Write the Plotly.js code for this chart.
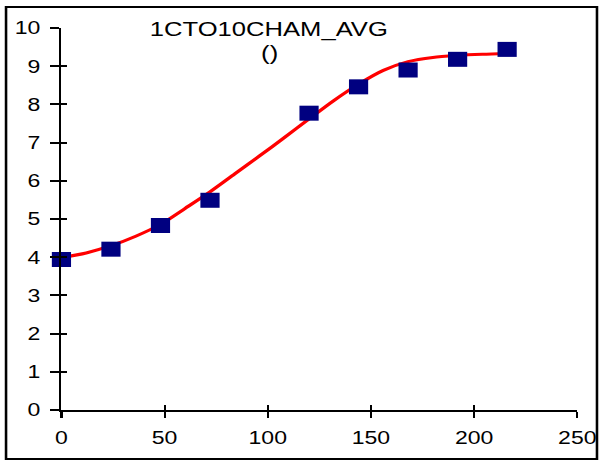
<!DOCTYPE html>
<html>
<head>
<meta charset="utf-8">
<script src="https://cdn.plot.ly/plotly-3.0.1.min.js"></script>
<style>
  html, body { margin: 0; padding: 0; background: #ffffff; overflow: hidden; }
  /* the chart is laid out narrow and widened horizontally, like the wide Excel-style export */
  #chart { width: 468px; height: 462px; transform: scaleX(1.28); transform-origin: 0 0; }
</style>
</head>
<body>
<div id="chart"></div>
<script>
// measured averages
const hours = [0, 24, 48, 72, 120, 144, 168, 192, 216];
const avgValues = [3.94, 4.21, 4.83, 5.49, 7.77, 8.46, 8.90, 9.18, 9.44];

// smoothed fit curve
const fitHours = [0, 12, 24, 36, 48, 60, 72, 84, 96, 108, 120, 132, 144, 156, 168, 180, 192, 204, 216];
const fitValues = [3.99, 4.11, 4.30, 4.55, 4.86, 5.28, 5.71, 6.18, 6.65, 7.13, 7.62, 8.10, 8.53, 8.89, 9.12, 9.23, 9.28, 9.31, 9.33];

const xTicks = [0, 50, 100, 150, 200, 250];
const yTicks = [0, 1, 2, 3, 4, 5, 6, 7, 8, 9, 10];

const titleLines = ['1CTO10CHAM_AVG', '()'];

const FONT = 'Liberation Sans, Arial, sans-serif';

const traces = [
  {
    x: fitHours, y: fitValues, type: 'scatter', mode: 'lines',
    line: { color: '#ff0000', width: 3, shape: 'spline', smoothing: 0.8 },
    hoverinfo: 'skip', showlegend: false, cliponaxis: false
  },
  {
    x: hours, y: avgValues, type: 'scatter', mode: 'markers',
    xaxis: 'x2', yaxis: 'y2',
    marker: { symbol: 'square', size: 15, color: '#000080', line: { width: 0 } },
    showlegend: false, cliponaxis: false
  }
];

const layout = {
  width: 468, height: 462,
  margin: { l: 48, r: 17, t: 28, b: 52, pad: 0 },
  paper_bgcolor: '#ffffff', plot_bgcolor: '#ffffff',
  font: { family: FONT, color: '#000000', size: 18 },
  showlegend: false,
  annotations: [
    {
      text: titleLines[0], xref: 'paper', yref: 'paper',
      x: 0.402, y: 0.9948, xanchor: 'center', yanchor: 'middle',
      showarrow: false, font: { family: FONT, size: 20, color: '#000000' }
    },
    {
      text: titleLines[1], xref: 'paper', yref: 'paper',
      x: 0.402, y: 0.9346, xanchor: 'center', yanchor: 'middle',
      showarrow: false, font: { family: FONT, size: 20, color: '#000000' }
    }
  ],
  xaxis: {
    range: [0, 250], tickvals: xTicks, ticktext: xTicks.map(String),
    ticks: 'outside', ticklen: 6, tickwidth: 1.7, tickcolor: '#000000',
    showline: true, linewidth: 2, linecolor: '#000000',
    showgrid: false, zeroline: false, ticklabelstandoff: 4,
    tickfont: { family: FONT, size: 18, color: '#000000' }
  },
  xaxis2: {
    overlaying: 'x', anchor: 'y', side: 'bottom',
    range: [0, 250], tickvals: xTicks,
    ticks: 'inside', ticklen: 5, tickwidth: 1.7, tickcolor: '#000000',
    showticklabels: false, showline: false, showgrid: false, zeroline: false
  },
  yaxis: {
    range: [0, 10], tickvals: yTicks, ticktext: yTicks.map(String),
    ticks: 'outside', ticklen: 7, tickwidth: 2, tickcolor: '#000000',
    showline: true, linewidth: 1.8, linecolor: '#000000',
    showgrid: false, zeroline: false, ticklabelstandoff: 4,
    tickfont: { family: FONT, size: 18, color: '#000000' }
  },
  yaxis2: {
    overlaying: 'y', anchor: 'x', side: 'left',
    range: [0, 10], tickvals: yTicks,
    ticks: 'inside', ticklen: 4.7, tickwidth: 2, tickcolor: '#000000',
    showticklabels: false, showline: false, showgrid: false, zeroline: false
  },
  shapes: [{
    type: 'rect', xref: 'paper', yref: 'paper',
    x0: -0.1074, x1: 1.0382, y0: -0.1283, y1: 1.0550,
    line: { color: '#000000', width: 2 }, fillcolor: 'rgba(0,0,0,0)', layer: 'above'
  }]
};

Plotly.newPlot('chart', traces, layout, { displayModeBar: false, staticPlot: true });
</script>
</body>
</html>
